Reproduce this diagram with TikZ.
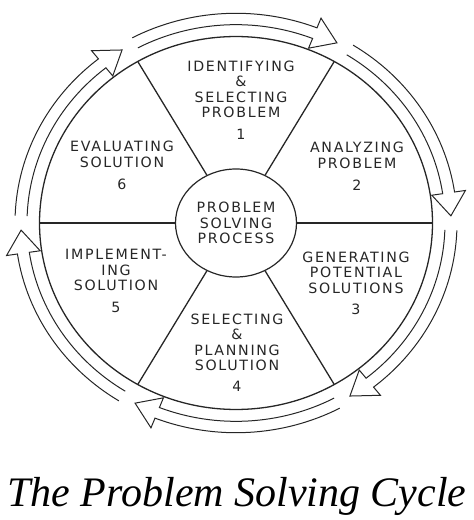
\documentclass[tikz,border=0pt]{standalone}
\usepackage{fontspec}
\usetikzlibrary{calc, shapes.geometric}
\newfontfamily\lblfont[LetterSpace=12]{DejaVu Sans}
\newfontfamily\ttlfont{Liberation Serif}
\newcommand{\cycArrow}[2]{%
	\draw[cycline] (#1:\Ri) arc[start angle=#1, end angle=#2+6.5, radius=\Ri] -- ({#2+6.5}:{\Ri-11}) -- (#2:\Rm) -- ({#2+6.5}:{\Ro+11}) -- ({#2+6.5}:\Ro) arc[start angle=#2+6.5, end angle=#1, radius=\Ro];
}

\begin{document}
\begin{tikzpicture}[x=1pt, y=1pt,
	cycline/.style={line width=1pt, draw=black!85},
	rimline/.style={line width=1.3pt, draw=black!85},
	lbl/.style={align=center, text=black!85, font=\lblfont\fontsize{14.2}{15.5}\selectfont}]
	\useasboundingbox (0,0) rectangle (474,520);
	\coordinate (O) at (236,297);
	\def\Rc{196.5}
	\def\Ri{209}
	\def\Ro{221}
	\def\Rm{215}

	\node[draw=black!85, line width=1.2pt, ellipse, minimum width=121, minimum height=108, inner sep=0pt, lbl] (core) at (O) {PROBLEM\\SOLVING\\PROCESS};

	\begin{scope}[shift={(O)}, yscale=0.949]
		\draw[rimline] (0,0) circle[radius=\Rc];
		\foreach \a in {0,60,...,300}
			\coordinate (rim\a) at (\a:\Rc);
		\cycArrow{178}{122}
		\cycArrow{118}{62}
		\cycArrow{58}{2}
		\cycArrow{-2}{-58}
		\cycArrow{-62}{-118}
		\cycArrow{-122}{-178}
	\end{scope}
	\foreach \a in {0,60,...,300}
		\draw[rimline] (core) -- (rim\a);

	\node[lbl] (identify) at ($(O)+(5,123)$) {IDENTIFYING\\\&\\SELECTING\\PROBLEM\\[6pt]1};
	\node[lbl] (analyze) at ($(O)+(121,56.5)$) {ANALYZING\\PROBLEM\\[7pt]2};
	\node[lbl] (generate) at ($(O)+(120,-60.5)$) {GENERATING\\POTENTIAL\\SOLUTIONS\\[6pt]3};
	\node[lbl] (plan) at ($(O)+(1,-129.5)$) {SELECTING\\\&\\PLANNING\\SOLUTION\\[5pt]4};
	\node[lbl] (implement) at ($(O)+(-120,-58)$) {IMPLEMENT-\\ING\\SOLUTION\\[6pt]5};
	\node[lbl] (evaluate) at ($(O)+(-114,57.5)$) {EVALUATING\\SOLUTION\\[7pt]6};

	\node[anchor=base, font=\ttlfont\itshape\fontsize{42}{48}\selectfont] (title) at ($(O)+(1,-284)$) {The Problem Solving Cycle};
\end{tikzpicture}
\end{document}
